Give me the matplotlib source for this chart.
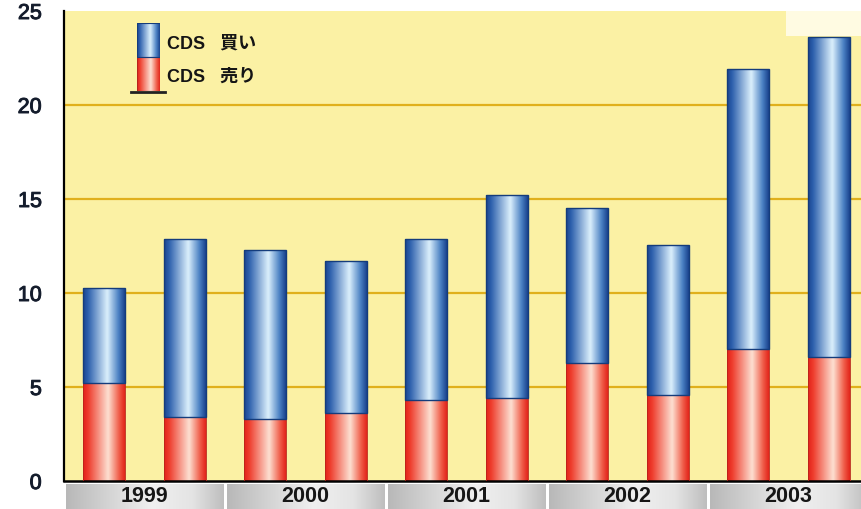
import numpy as np
import matplotlib
matplotlib.use("Agg")
import matplotlib.pyplot as plt
import matplotlib.patheffects as pe
from matplotlib.colors import LinearSegmentedColormap
from matplotlib.patches import Rectangle

plt.rcParams['font.family'] = ['Liberation Sans', 'Noto Sans CJK JP', 'DejaVu Sans']

# --- data ---
years = ["1999", "2000", "2001", "2002", "2003"]
sell = [5.2, 3.4, 3.3, 3.6, 4.3, 4.4, 6.3, 4.6, 7.0, 6.6]          # CDS 売り
total = [10.25, 12.85, 12.3, 11.7, 12.85, 15.2, 14.5, 12.55, 21.9, 23.6]
buy = [t - s for t, s in zip(total, sell)]                           # CDS 買い
yticks = [0, 5, 10, 15, 20, 25]
legend_labels = ["CDS   買い", "CDS   売り"]

W, H = 861, 509
fig = plt.figure(figsize=(W / 100, H / 100), dpi=100, facecolor="white")

left_px, right_px, top_px, bot_px = 64, 869, 11, 481
ax = fig.add_axes([left_px / W, 1 - bot_px / H,
                   (right_px - left_px) / W, (bot_px - top_px) / H])
ax.set_facecolor("#FBF1A4")
ax.set_xlim(-0.5, len(sell) - 0.5)
ax.set_ylim(0, 25)

# pale patch in the top-right corner
ax.add_patch(Rectangle((8.47, 23.65), 1.1, 1.5, facecolor="#FFFBE2",
                       edgecolor="none", zorder=0.5))

for v in yticks[1:-1]:
    ax.axhline(v, color="#E0B01C", lw=1.6, zorder=1)

blue_cmap = LinearSegmentedColormap.from_list(
    "cyl_blue", [(0, "#1A4490"), (0.12, "#2D60AD"), (0.58, "#DBF0FC"),
                 (0.85, "#4A80C3"), (1, "#19428C")])
red_cmap = LinearSegmentedColormap.from_list(
    "cyl_red", [(0, "#E2221A"), (0.12, "#EE3C2C"), (0.6, "#FDE0D2"),
                (0.86, "#F05E4A"), (1, "#E2241A")])
grad = np.linspace(0, 1, 256).reshape(1, -1)

x = np.arange(len(sell))
bw = 0.52


def shade(bars, cmap):
    for b in bars:
        x0, y0 = b.get_x(), b.get_y()
        im = ax.imshow(grad, cmap=cmap, aspect="auto", interpolation="bicubic",
                       extent=(x0, x0 + b.get_width(), y0, y0 + b.get_height()),
                       zorder=2)
        im.set_clip_path(b)


red_bars = ax.bar(x, sell, bw, color="none", edgecolor="#B8231A", lw=0.6, zorder=3)
shade(red_bars, red_cmap)
blue_bars = ax.bar(x, buy, bw, bottom=sell, color="none", edgecolor="#143C7C",
                   lw=1.0, zorder=3)
shade(blue_bars, blue_cmap)
ax.set_xlim(-0.5, len(sell) - 0.5)
ax.set_ylim(0, 25)

for s in ("top", "right"):
    ax.spines[s].set_visible(False)
ax.spines["left"].set_linewidth(1.6)
ax.spines["bottom"].set_linewidth(1.8)
ax.set_xticks([])
ax.set_yticks(yticks)
ax.tick_params(axis="y", length=0, pad=16, labelsize=15.5, labelcolor="#141C2C")
for lbl in ax.get_yticklabels():
    lbl.set_path_effects([pe.withStroke(linewidth=0.7, foreground="#141C2C")])

# legend swatch
lax = fig.add_axes([137 / W, 1 - 91 / H, 23 / W, 68 / H])
lax.set_xlim(0, 1)
lax.set_ylim(0, 2)
lax.axis("off")
for y0, cm, ec in ((0, red_cmap, "#B8231A"), (1, blue_cmap, "#143C7C")):
    r = Rectangle((0, y0), 1, 1, facecolor="none", edgecolor=ec, lw=0.8)
    lax.add_patch(r)
    im = lax.imshow(grad, cmap=cm, aspect="auto", interpolation="bicubic",
                    extent=(0, 1, y0, y0 + 1))
    im.set_clip_path(r)
fig.add_artist(plt.Line2D([131 / W, 165 / W], [1 - 92 / H, 1 - 92 / H],
                          color="#222222", lw=2))
fig.text(167 / W, 1 - 44 / H, legend_labels[0], fontsize=13, fontweight="bold",
         va="center", ha="left", color="#151515")
fig.text(167 / W, 1 - 77 / H, legend_labels[1], fontsize=13, fontweight="bold",
         va="center", ha="left", color="#151515")

# year band beneath the axis
bax = fig.add_axes([left_px / W, 0, (right_px - left_px) / W, (H - 484) / H])
bax.set_xlim(-0.5, len(sell) - 0.5)
bax.set_ylim(0, 1)
bax.axis("off")
band_cmap = LinearSegmentedColormap.from_list(
    "band", [(0, "#B8B8B8"), (0.25, "#D2D2D2"), (0.55, "#F0F0F0"),
             (0.8, "#E4E4E4"), (1, "#BEBEBE")])
for i, yr in enumerate(years):
    x0 = 2 * i - 0.5
    bax.imshow(grad, cmap=band_cmap, aspect="auto", interpolation="bicubic",
               extent=(x0 + 0.02, x0 + 1.98, 0, 1))
    bax.text(x0 + 1.0, 0.48, yr, ha="center", va="center", fontsize=15.5,
             fontweight="bold", color="#161616")
bax.set_xlim(-0.5, len(sell) - 0.5)
bax.set_ylim(0, 1)

fig.savefig("out.png", dpi=100, facecolor="white")
